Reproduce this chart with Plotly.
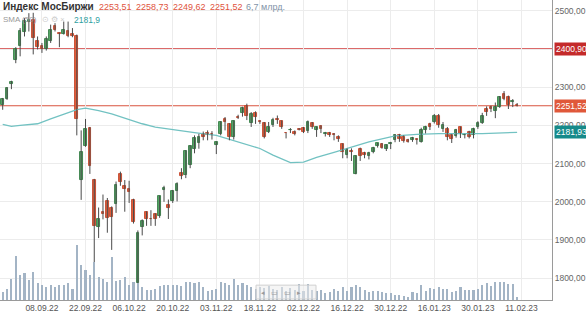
import plotly.graph_objects as go

# ---------------- data ----------------
opens = [2254, 2269, 2308, 2371, 2407, 2446, 2472, 2477, 2420, 2407,
         2399, 2422, 2461, 2441, 2440, 2448, 2440, 2433, 2057, 2146,
         2193, 2057, 1934, 1974, 2001, 1984, 1995, 2072, 2041, 2034,
         2006, 1788, 1934, 1974, 1955, 1967, 1964, 2032, 1991, 2003,
         2029, 2075, 2069, 2096, 2137, 2153, 2178, 2179, 2178, 2148,
         2178, 2217, 2204, 2170, 2222, 2232, 2252, 2206, 2232, 2210,
         2206, 2183, 2200, 2217, 2211, 2180, 2187, 2184, 2191, 2193,
         2185, 2206, 2189, 2198, 2178, 2180, 2178, 2171, 2151, 2122,
         2132, 2073, 2138, 2127, 2121, 2131, 2146, 2151, 2137, 2152,
         2161, 2174, 2171, 2161, 2163, 2165, 2157, 2189, 2204, 2209,
         2226, 2191, 2191, 2174, 2172, 2196, 2174, 2183, 2174, 2197,
         2206, 2242, 2248, 2239, 2248, 2282, 2275, 2261, 2253.51]
highs = [2272, 2300, 2317, 2405, 2455, 2481, 2494, 2495, 2433, 2416,
         2433, 2464, 2468, 2443, 2472, 2472, 2455, 2438, 2187, 2217,
         2196, 2060, 1985, 2019, 2010, 1988, 2053, 2079, 2057, 2055,
         2008, 1925, 1954, 1975, 1978, 1970, 2016, 2042, 2006, 2031,
         2051, 2088, 2135, 2148, 2174, 2178, 2184, 2187, 2185, 2158,
         2211, 2222, 2206, 2213, 2228, 2249, 2257, 2235, 2237, 2213,
         2209, 2209, 2220, 2226, 2213, 2181, 2193, 2187, 2193, 2196,
         2213, 2209, 2197, 2200, 2183, 2183, 2180, 2174, 2153, 2140,
         2140, 2122, 2142, 2131, 2131, 2144, 2154, 2154, 2150, 2157,
         2177, 2178, 2174, 2165, 2170, 2166, 2194, 2199, 2207, 2230,
         2230, 2209, 2196, 2177, 2191, 2197, 2178, 2186, 2194, 2211,
         2233, 2250, 2252, 2260, 2277, 2290, 2278, 2269, 2258.73]
lows = [2241, 2267, 2295, 2363, 2381, 2433, 2446, 2386, 2399, 2390,
        2396, 2416, 2446, 2405, 2438, 2431, 2431, 2174, 2005, 2144,
        2073, 1841, 1905, 1954, 1919, 1874, 1971, 2042, 1974, 1997,
        1943, 1782, 1912, 1937, 1937, 1937, 1958, 2000, 1955, 1997,
        2001, 2059, 2062, 2088, 2127, 2139, 2161, 2161, 2163, 2125,
        2174, 2187, 2161, 2163, 2217, 2223, 2214, 2196, 2204, 2204,
        2166, 2180, 2196, 2204, 2191, 2166, 2180, 2174, 2187, 2180,
        2180, 2191, 2170, 2180, 2171, 2170, 2161, 2157, 2114, 2114,
        2107, 2072, 2107, 2114, 2111, 2127, 2142, 2139, 2133, 2138,
        2156, 2157, 2155, 2155, 2157, 2150, 2155, 2179, 2188, 2205,
        2194, 2183, 2161, 2154, 2168, 2167, 2166, 2166, 2166, 2191,
        2204, 2225, 2235, 2219, 2246, 2266, 2243, 2248, 2249.62]
closes = [2269, 2298, 2313, 2401, 2448, 2474, 2476, 2429, 2406, 2401,
          2427, 2451, 2451, 2439, 2449, 2433, 2433, 2217, 2131, 2191,
          2094, 1937, 1954, 1969, 1958, 1961, 2044, 2051, 2034, 2025,
          1947, 1919, 1951, 1954, 1954, 1954, 2014, 2036, 1984, 2029,
          2047, 2068, 2133, 2146, 2166, 2170, 2170, 2176, 2177, 2157,
          2209, 2209, 2170, 2211, 2220, 2246, 2226, 2230, 2223, 2209,
          2170, 2197, 2213, 2213, 2196, 2179, 2189, 2178, 2189, 2184,
          2210, 2196, 2196, 2190, 2180, 2174, 2174, 2165, 2131, 2136,
          2131, 2120, 2120, 2122, 2127, 2141, 2153, 2142, 2148, 2155,
          2174, 2165, 2160, 2157, 2166, 2161, 2189, 2196, 2196, 2226,
          2200, 2200, 2171, 2165, 2187, 2177, 2176, 2170, 2191, 2206,
          2226, 2236, 2243, 2249, 2274, 2269, 2254, 2265, 2251.52]
volumes_bn = [21, 29, 54, 111, 63, 68, 50, 70, 42, 38,
              32, 39, 32, 38, 39, 43, 28, 139, 88, 75,
              63, 96, 58, 52, 46, 108, 48, 50, 58, 39,
              46, 42, 33, 25, 25, 27, 35, 37, 39, 38,
              39, 35, 46, 46, 44, 46, 33, 23, 25, 28,
              45, 42, 38, 54, 39, 43, 39, 32, 29, 33,
              30, 35, 28, 25, 33, 23, 30, 25, 40, 23,
              40, 25, 23, 25, 18, 21, 29, 23, 32, 23,
              33, 37, 32, 25, 20, 23, 23, 20, 17, 18,
              13, 13, 10, 8, 20, 17, 38, 23, 31, 29,
              33, 27, 27, 21, 23, 33, 25, 25, 25, 28,
              37, 43, 35, 46, 45, 45, 40, 40, 6.7]
idx = list(range(len(closes)))

sma_idx = [0, 2, 4, 8, 11, 15, 17, 19, 22, 25, 28, 32, 35, 41, 44, 49, 53,
           59, 62, 66, 69, 72, 76, 80, 84, 90, 95, 100, 105, 110, 118]
sma_val = [2202.6, 2197.4, 2200.0, 2204.4, 2217.4, 2234.7, 2241.5, 2245.1,
           2238.9, 2230.3, 2219.2, 2204.4, 2195.8, 2185.5, 2181.1, 2174.1,
           2161.1, 2139.6, 2122.2, 2102.5, 2104.0, 2116.2, 2129.2, 2142.2,
           2157.0, 2172.5, 2176.7, 2178.5, 2178.5, 2178.5, 2181.93]

tick_idx = [9, 19, 29, 39, 49, 59, 69, 79, 89, 99, 109, 119]
tick_labels = ['08.09.22', '22.09.22', '06.10.22', '20.10.22', '03.11.22',
               '18.11.22', '02.12.22', '16.12.22', '30.12.22', '16.01.23',
               '30.01.23', '11.02.23']
price_ticks = [1800, 1900, 2000, 2100, 2200, 2300, 2400, 2500]
price_tick_labels = ['1800,00', '1900,00', '2000,00', '2100,00', '2200,00',
                     '2300,00', '2400,00', '2500,00']

level_line = 2400.90
last_close = closes[-1]
sma_last = sma_val[-1]

# ---------------- styles ----------------
FONT = 'Liberation Sans, Arial, sans-serif'
UP_FILL, UP_LINE = '#56a866', '#367d45'
DN_FILL, DN_LINE = '#e4603c', '#c4452a'
W = 586; H = 313
ML, MR, MT, MB = 0, 34, 0, 10
PW = W - ML - MR
PH = H - MT - MB

def px_x(p):
    return p / PW

def px_y(p):
    return 1 - p / PH

up = [c >= o for o, c in zip(opens, closes)]
body_lo = [min(o, c) for o, c in zip(opens, closes)]
body_h = [max(abs(c - o), 1.6) for o, c in zip(opens, closes)]
fills = [UP_FILL if u else DN_FILL for u in up]
lines = [UP_LINE if u else DN_LINE for u in up]

wx, wy = [], []
for i, h, l in zip(idx, highs, lows):
    wx += [i, i, None]
    wy += [l, h, None]

fig = go.Figure()
fig.add_trace(go.Scatter(x=sma_idx, y=sma_val, mode='lines',
                         line=dict(color='#72c2c2', width=1.3),
                         hoverinfo='skip', showlegend=False))
fig.add_trace(go.Scatter(x=wx, y=wy, mode='lines',
                         line=dict(color='#4a4a4a', width=1),
                         hoverinfo='skip', showlegend=False))
fig.add_trace(go.Bar(x=idx, y=body_h, base=body_lo, width=0.62,
                     marker=dict(color=fills, line=dict(color=lines, width=0.9)),
                     showlegend=False))
fig.add_trace(go.Bar(x=idx, y=volumes_bn, yaxis='y2', width=0.48,
                     marker=dict(color='#a3b4c5', line=dict(width=0)),
                     showlegend=False))

shapes = [
    dict(type='line', xref='paper', x0=0, x1=1, yref='y', y0=level_line, y1=level_line,
         line=dict(color='#d23f3f', width=1), layer='below'),
    dict(type='line', xref='paper', x0=0, x1=1, yref='y', y0=last_close, y1=last_close,
         line=dict(color='#d9533f', width=1), layer='below'),
    dict(type='rect', xref='paper', yref='paper', x0=px_x(256), x1=px_x(316),
         y0=px_y(302), y1=px_y(288), fillcolor='rgba(236,236,236,0.55)',
         line=dict(color='#d0d0d0', width=1)),
]

ann = []
def tag(y, text, bg):
    ann.append(dict(xref='paper', yref='y', x=px_x(554), y=y, xanchor='left', yanchor='middle',
                    text=text, showarrow=False, bgcolor=bg, borderpad=1,
                    font=dict(family=FONT, size=8.5, color='white')))
tag(level_line, '2400,90', '#c42a2a')
tag(last_close, '2251,52', '#e0583a')
tag(sma_last, '2181,93', '#168a8a')

def label(xp, yp, text, color, size=9.0, bold=False):
    ann.append(dict(xref='paper', yref='paper', x=px_x(xp), y=px_y(yp), xanchor='left',
                    yanchor='middle', showarrow=False,
                    text=('<b>%s</b>' % text) if bold else text,
                    font=dict(family=FONT, size=size, color=color)))

label(1, 7, 'Индекс МосБиржи', '#333333', size=10, bold=True)
RED = '#e0533d'
label(97, 7, '2253,51', RED)
label(134, 7, '2258,73', RED)
label(171, 7, '2249,62', RED)
label(208, 7, '2251,52', RED)
label(244, 7, '6,7 млрд.', '#7f93a8')
label(1, 20, 'SMA (50)', '#999999', size=8)
label(40, 20, '⊙ ⚙ ×', '#cccccc', size=7.5)
label(72, 20, '2181,9', '#2f9f9f', size=8.5)
label(259, 295, '◂   ▭   ▭   ▸', '#9a9a9a', size=7)

fig.update_layout(
    width=W, height=H, margin=dict(l=ML, r=MR, t=MT, b=MB),
    paper_bgcolor='white', plot_bgcolor='white',
    barmode='overlay', showlegend=False, bargap=0,
    font=dict(family=FONT),
    xaxis=dict(range=[-0.62, 126.0], tickvals=tick_idx, ticktext=tick_labels,
               showgrid=True, gridcolor='#ececec', gridwidth=1, zeroline=False,
               showline=True, linecolor='#9a9a9a', linewidth=1, ticks='',
               tickfont=dict(family=FONT, size=8.5, color='#555555'),
               fixedrange=True),
    yaxis=dict(range=[1742.8, 2528.5], side='right', tickvals=price_ticks,
               ticktext=price_tick_labels, showgrid=True, gridcolor='#ececec',
               zeroline=False, showline=True, linecolor='#9a9a9a', linewidth=1,
               ticks='', tickfont=dict(family=FONT, size=8.5, color='#666666')),
    yaxis2=dict(overlaying='y', range=[0, 757.5], visible=False),
    shapes=shapes, annotations=ann,
)

fig.write_html('out.html')
